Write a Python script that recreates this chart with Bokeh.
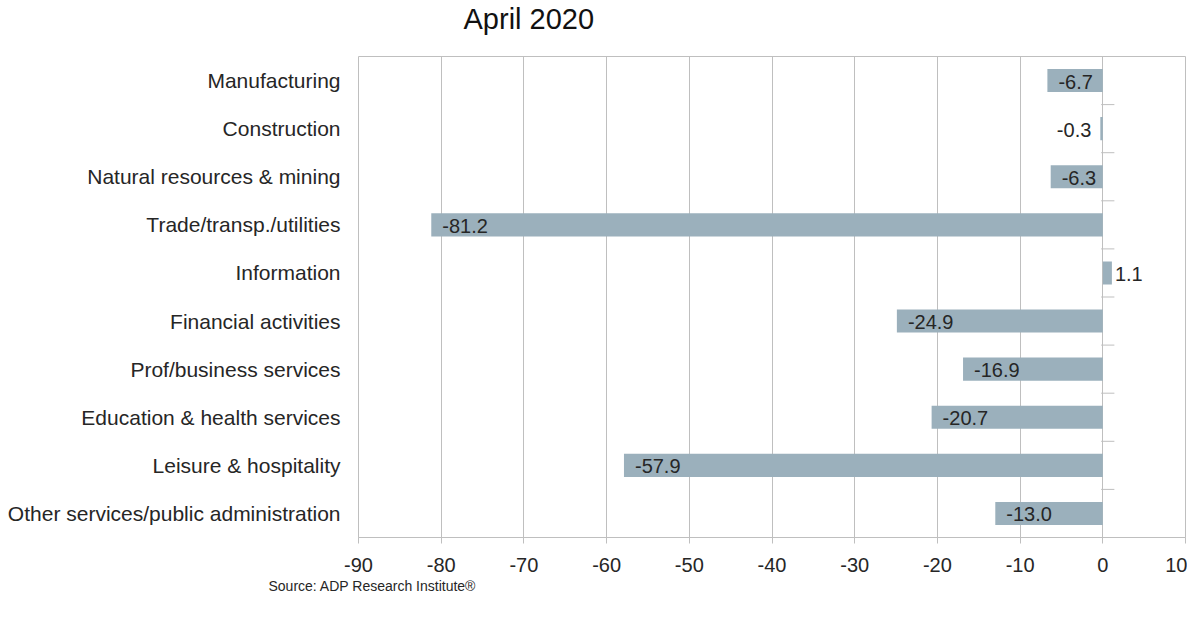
from bokeh.plotting import figure
from bokeh.models import Range1d, FixedTicker, ColumnDataSource, Title
from bokeh.core.properties import value
from bokeh.embed import file_html
from bokeh.resources import INLINE

categories = ["Manufacturing", "Construction", "Natural resources & mining",
              "Trade/transp./utilities", "Information", "Financial activities",
              "Prof/business services", "Education & health services",
              "Leisure & hospitality", "Other services/public administration"]
values = [-6.7, -0.3, -6.3, -81.2, 1.1, -24.9, -16.9, -20.7, -57.9, -13.0]
x_ticks = [-90, -80, -70, -60, -50, -40, -30, -20, -10, 0, 10]
title_text = "April 2020"
source_text = "Source: ADP Research Institute\u00ae"

FONT = "Liberation Sans"
GRID = "#bfbfbf"
BAR = "#9bb0bc"
TXT = "#262626"

n = len(categories)
ypos = list(range(n))

p = figure(width=1187, height=604, output_backend="svg", toolbar_location=None,
           x_range=Range1d(x_ticks[0], x_ticks[-1]), y_range=Range1d(n - 0.5, -0.5),
           min_border_left=358, min_border_right=2, min_border_top=56, min_border_bottom=67)

p.title.text = title_text
p.title.text_font = FONT
p.title.text_font_size = "29px"
p.title.text_font_style = "normal"
p.title.text_color = "#111111"
p.title.align = "left"
p.title.vertical_align = "top"
p.title.offset = 105
p.title.standoff = 4

# empty spacer between the title and the plot frame
p.add_layout(Title(text=" ", text_font_size="1px", standoff=15), "above")

p.add_layout(Title(text=source_text, align="left", offset=-90, text_font=FONT,
                   text_font_size="14px", text_font_style="normal", text_color=TXT,
                   standoff=2), "below")

p.outline_line_color = GRID
p.outline_line_width = 1

src = ColumnDataSource(dict(y=ypos, v=values))
p.hbar(y="y", left=0, right="v", height=0.48, source=src, fill_color=BAR, line_color=None)

# value labels: inside end for long bars, outside for short ones
inside = [(i, v) for i, v in zip(ypos, values) if v <= -3]
out_neg = [(i, v) for i, v in zip(ypos, values) if -3 < v < 0]
out_pos = [(i, v) for i, v in zip(ypos, values) if v >= 0]
for group, align, off in [(inside, "left", 11), (out_neg, "right", -9), (out_pos, "left", 3)]:
    if not group:
        continue
    p.text(x=[v for _, v in group], y=[i for i, _ in group], text=[f"{v:.1f}" for _, v in group],
           text_align=align, text_baseline="middle", x_offset=off, y_offset=1,
           text_font=value(FONT), text_font_size="20px", text_color=TXT)

# small tick marks on the zero axis between categories
bounds = [i + 0.5 for i in ypos[:-1]]
p.segment(x0=[-0.2] * len(bounds), x1=[1.4] * len(bounds), y0=bounds, y1=bounds,
          line_color=GRID, line_width=1)

p.xaxis.ticker = FixedTicker(ticks=x_ticks)
p.xaxis.major_label_overrides = {t: str(t) for t in x_ticks}
p.xgrid.ticker = FixedTicker(ticks=x_ticks)
p.xgrid.grid_line_color = GRID
p.ygrid.grid_line_color = None
p.xaxis.axis_line_color = GRID
p.xaxis.major_tick_line_color = GRID
p.xaxis.major_tick_out = 6
p.xaxis.major_tick_in = 0
p.xaxis.minor_tick_line_color = None
p.xaxis.major_label_standoff = 14
p.xaxis.major_label_text_font = FONT
p.xaxis.major_label_text_font_size = "20px"
p.xaxis.major_label_text_color = TXT

p.yaxis.ticker = FixedTicker(ticks=ypos)
p.yaxis.major_label_overrides = {i: c for i, c in zip(ypos, categories)}
p.yaxis.axis_line_color = None
p.yaxis.major_tick_line_color = None
p.yaxis.minor_tick_line_color = None
p.yaxis.major_label_standoff = 12
p.yaxis.major_label_text_font = FONT
p.yaxis.major_label_text_font_size = "21px"
p.yaxis.major_label_text_color = TXT

open("out.html", "w").write(file_html(p, INLINE))
